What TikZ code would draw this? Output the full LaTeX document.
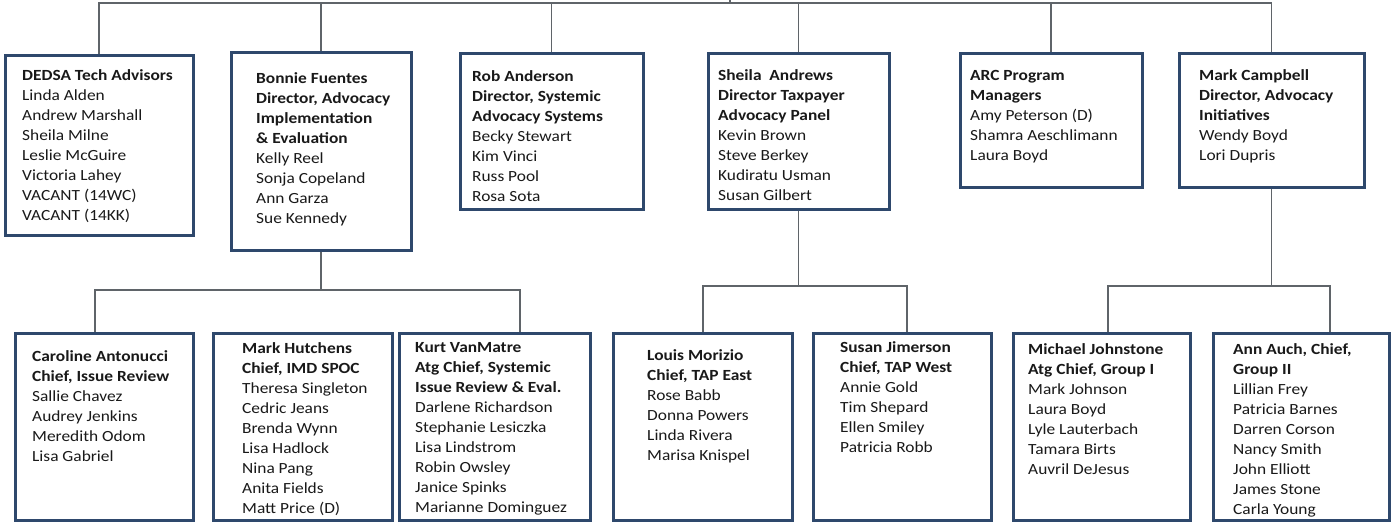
\documentclass[tikz,border=0pt]{standalone}
\usepackage{fontspec}
\setmainfont{Carlito}[FakeStretch=1.12]
\definecolor{boxblue}{RGB}{46,72,108}
\definecolor{linegray}{RGB}{95,100,105}
\newcommand{\orglines}[1]{\parbox[t]{220pt}{\raggedright\fontsize{15.5}{20}\selectfont #1}}
\tikzset{
  orgbox/.style={draw=boxblue, line width=3pt, fill=white, inner sep=0pt},
  orgtxt/.style={anchor=base west, inner sep=0pt, text=black!90},
  conn/.style={draw=linegray, line width=1.3pt}
}
\begin{document}
\begin{tikzpicture}[x=1pt,y=-1pt]
\useasboundingbox (0,0) rectangle (1391,523);
% top row boxes
\node[orgbox, minimum width=188pt, minimum height=180pt] (b1) at (99,145) {};
\node[orgbox, minimum width=180pt, minimum height=198pt] (b2) at (321,151) {};
\node[orgbox, minimum width=183pt, minimum height=156pt] (b3) at (551.5,131) {};
\node[orgbox, minimum width=181pt, minimum height=156pt] (b4) at (798.5,131) {};
\node[orgbox, minimum width=182pt, minimum height=134pt] (b5) at (1051,120) {};
\node[orgbox, minimum width=185pt, minimum height=134pt] (b6) at (1271.5,120) {};
% bottom row boxes
\node[orgbox, minimum width=178pt, minimum height=187pt] (b7) at (104,426.5) {};
\node[orgbox, minimum width=179pt, minimum height=187pt] (b8) at (302.5,426.5) {};
\node[orgbox, minimum width=191pt, minimum height=187pt] (b9) at (494.5,426.5) {};
\node[orgbox, minimum width=179pt, minimum height=187pt] (b10) at (702.5,426.5) {};
\node[orgbox, minimum width=178pt, minimum height=187pt] (b11) at (902,426.5) {};
\node[orgbox, minimum width=177pt, minimum height=187pt] (b12) at (1101.5,426.5) {};
\node[orgbox, minimum width=176pt, minimum height=187pt] (b13) at (1301,426.5) {};
% texts
\node[orgtxt] (t1) at (22,80) {\orglines{\textbf{DEDSA Tech Advisors}\\Linda Alden\\Andrew Marshall\\Sheila Milne\\Leslie McGuire\\Victoria Lahey\\VACANT (14WC)\\VACANT (14KK)}};
\node[orgtxt] (t2) at (256,83) {\orglines{\textbf{Bonnie Fuentes}\\\textbf{Director, Advocacy}\\\textbf{Implementation}\\\textbf{\& Evaluation}\\Kelly Reel\\Sonja Copeland\\Ann Garza\\Sue Kennedy}};
\node[orgtxt] (t3) at (472,81) {\orglines{\textbf{Rob Anderson}\\\textbf{Director, Systemic}\\\textbf{Advocacy Systems}\\Becky Stewart\\Kim Vinci\\Russ Pool\\Rosa Sota}};
\node[orgtxt] (t4) at (718,80) {\orglines{\textbf{Sheila\ \ Andrews}\\\textbf{Director Taxpayer}\\\textbf{Advocacy Panel}\\Kevin Brown\\Steve Berkey\\Kudiratu Usman\\Susan Gilbert}};
\node[orgtxt] (t5) at (970,80) {\orglines{\textbf{ARC Program}\\\textbf{Managers}\\Amy Peterson (D)\\Shamra Aeschlimann\\Laura Boyd}};
\node[orgtxt] (t6) at (1199,80) {\orglines{\textbf{Mark Campbell}\\\textbf{Director, Advocacy}\\\textbf{Initiatives}\\Wendy Boyd\\Lori Dupris}};
\node[orgtxt] (t7) at (32,361) {\orglines{\textbf{Caroline Antonucci}\\\textbf{Chief, Issue Review}\\Sallie Chavez\\Audrey Jenkins\\Meredith Odom\\Lisa Gabriel}};
\node[orgtxt] (t8) at (242,353) {\orglines{\textbf{Mark Hutchens}\\\textbf{Chief, IMD SPOC}\\Theresa Singleton\\Cedric Jeans\\Brenda Wynn\\Lisa Hadlock\\Nina Pang\\Anita Fields\\Matt Price (D)}};
\node[orgtxt] (t9) at (415,352) {\orglines{\textbf{Kurt VanMatre}\\\textbf{Atg Chief, Systemic}\\\textbf{Issue Review \& Eval.}\\Darlene Richardson\\Stephanie Lesiczka\\Lisa Lindstrom\\Robin Owsley\\Janice Spinks\\Marianne Dominguez}};
\node[orgtxt] (t10) at (647,360) {\orglines{\textbf{Louis Morizio}\\\textbf{Chief, TAP East}\\Rose Babb\\Donna Powers\\Linda Rivera\\Marisa Knispel}};
\node[orgtxt] (t11) at (840,352) {\orglines{\textbf{Susan Jimerson}\\\textbf{Chief, TAP West}\\Annie Gold\\Tim Shepard\\Ellen Smiley\\Patricia Robb}};
\node[orgtxt] (t12) at (1028,354) {\orglines{\textbf{Michael Johnstone}\\\textbf{Atg Chief, Group I}\\Mark Johnson\\Laura Boyd\\Lyle Lauterbach\\Tamara Birts\\Auvril DeJesus}};
\node[orgtxt] (t13) at (1233,354) {\orglines{\textbf{Ann Auch, Chief,}\\\textbf{Group II}\\Lillian Frey\\Patricia Barnes\\Darren Corson\\Nancy Smith\\John Elliott\\James Stone\\Carla Young}};
% connectors
\coordinate (top) at (730,0);
\coordinate (bus) at (730,3);
\coordinate (h7) at (95,290);
\coordinate (h9) at (520,290);
\coordinate (h10) at (703,286);
\coordinate (h11) at (907,286);
\coordinate (h12) at (1108,286);
\coordinate (h13) at (1330,286);
\begin{scope}[on background layer/.try]
\end{scope}
\draw[conn] (top) -- (bus);
\draw[conn] (b1.north) |- (bus) -| (b6.north);
\draw[conn] (b2.north) -- (b2.north |- bus);
\draw[conn] (b3.north) -- (b3.north |- bus);
\draw[conn] (b4.north) -- (b4.north |- bus);
\draw[conn] (b5.north) -- (b5.north |- bus);
\draw[conn] (b2.south) |- (h7) -- (b7.north -| h7);
\draw[conn] (b2.south) |- (h9) -- (b9.north -| h9);
\draw[conn] (b4.south) |- (h10) -- (b10.north -| h10);
\draw[conn] (b4.south) |- (h11) -- (b11.north -| h11);
\draw[conn] (b6.south) |- (h12) -- (b12.north -| h12);
\draw[conn] (b6.south) |- (h13) -- (b13.north -| h13);
\end{tikzpicture}
\end{document}
